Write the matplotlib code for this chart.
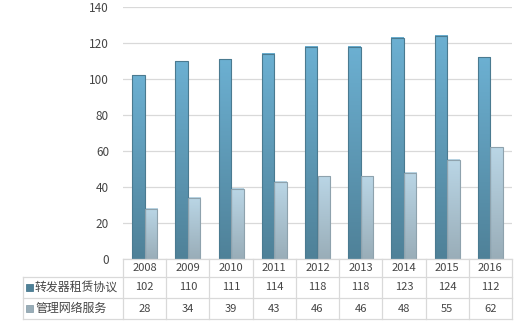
import matplotlib
matplotlib.use("Agg")
import matplotlib.pyplot as plt
import numpy as np
from matplotlib.colors import LinearSegmentedColormap
from matplotlib.patches import Rectangle

plt.rcParams["font.family"] = ["Noto Sans CJK SC", "DejaVu Sans"]

years = ["2008", "2009", "2010", "2011", "2012", "2013", "2014", "2015", "2016"]
series_names = ["转发器租赁协议", "管理网络服务"]
transponder = [102, 110, 111, 114, 118, 118, 123, 124, 112]
network = [28, 34, 39, 43, 46, 46, 48, 55, 62]

# gradient (top, bottom) and outline for each series
GRAD = [("#6cb0d2", "#4f8198"), ("#bad6e6", "#99adb8")]
EDGE = ["#4a7a90", "#8ea2ad"]
TEXT = "#454545"
GRID = "#d9d9d9"

W, H = 522, 328
fig = plt.figure(figsize=(W / 100, H / 100), dpi=100)

x_left, x_right = 123, 512
y_top, y_base = 7, 259
ax = fig.add_axes([x_left / W, 1 - y_base / H, (x_right - x_left) / W, (y_base - y_top) / H])

n = len(years)
bw = 0.29
ax.set_yticks(range(0, 141, 20))
ax.tick_params(axis="y", length=0, labelsize=8.5, labelcolor=TEXT, pad=10)
ax.set_xticks([])
for s in ax.spines.values():
    s.set_visible(False)
ax.grid(axis="y", color=GRID, lw=0.9)
ax.set_axisbelow(True)

grad = np.linspace(1, 0, 256).reshape(-1, 1)
for k, vals in enumerate([transponder, network]):
    cmap = LinearSegmentedColormap.from_list(f"g{k}", [GRAD[k][1], GRAD[k][0]])
    for i, v in enumerate(vals):
        x0 = i + 0.5 - bw + k * bw
        ax.imshow(grad, extent=(x0, x0 + bw, 0, v), aspect="auto", cmap=cmap,
                  vmin=0, vmax=1, zorder=2)
        ax.add_patch(Rectangle((x0, 0), bw, v, fill=False, ec=EDGE[k], lw=0.8, zorder=3))
ax.set_xlim(0, n)
ax.set_ylim(0, 140)

# data table under the plot
tab = fig.add_axes([0, 0, 1, 1])
tab.set_xlim(0, W)
tab.set_ylim(H, 0)
tab.axis("off")

row_y = [259, 277, 298, 319]
col_w = (x_right - x_left) / n
col_x = [x_left + i * col_w for i in range(n + 1)]
lab_x = 23
lc = dict(color=GRID, lw=0.9)

tab.plot([x_left, x_right], [row_y[0], row_y[0]], **lc)
for y in row_y[1:]:
    tab.plot([lab_x, x_right], [y, y], **lc)
for x in col_x:
    tab.plot([x, x], [row_y[0], row_y[3]], **lc)
tab.plot([lab_x, lab_x], [row_y[1], row_y[3]], **lc)

for i, yr in enumerate(years):
    cx = (col_x[i] + col_x[i + 1]) / 2
    tab.text(cx, (row_y[0] + row_y[1]) / 2, yr, ha="center", va="center",
             fontsize=8, color=TEXT)
    for r, vals in enumerate([transponder, network]):
        tab.text(cx, (row_y[r + 1] + row_y[r + 2]) / 2, str(vals[i]), ha="center",
                 va="center", fontsize=8, color=TEXT)

for r, name in enumerate(series_names):
    cy = (row_y[r + 1] + row_y[r + 2]) / 2
    tab.add_patch(Rectangle((26, cy - 3.5), 7, 7, fc=GRAD[r][1], ec=EDGE[r], lw=0.6))
    tab.text(35, cy, name, ha="left", va="center", fontsize=8.6, color=TEXT)

fig.savefig("out.png", dpi=100)
